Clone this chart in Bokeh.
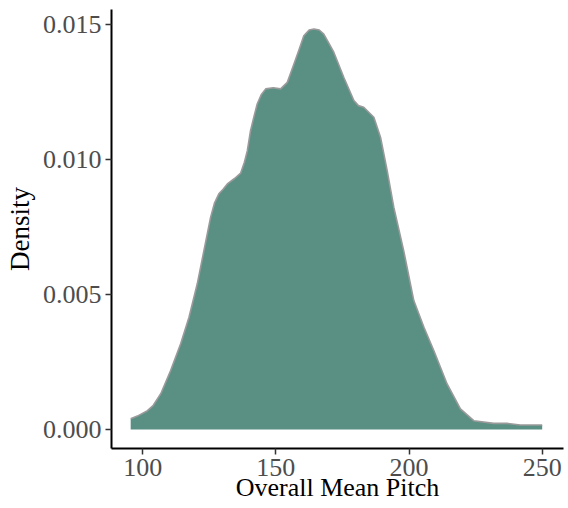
from bokeh.plotting import figure
from bokeh.models import Range1d, FixedTicker, PrintfTickFormatter
from bokeh.embed import file_html
from bokeh.resources import INLINE

pitch = [95.5, 98, 101.8, 104, 106.8, 110.5, 114.3, 117.4, 120.5, 123.0, 125.5,
         127.0, 128.6, 130.2, 131.8, 134.5, 136.8, 138.2, 139.3, 140.5, 141.8, 143.0,
         144.5, 146.2, 149, 151.8, 154.3, 156.8, 158.8, 160.5, 162.5, 164.3, 166.3,
         168.0, 170, 171.8, 175.5, 179.3, 181, 183.0, 186.8, 189.3, 191.8, 194.3,
         198.0, 201.8, 205.6, 209.3, 214.3, 219.3, 224.3, 231.8, 236.8, 241.8, 250]
density = [0.0004, 0.0005, 0.0007, 0.0009, 0.00133, 0.00219, 0.00319, 0.00416, 0.0054,
           0.00663, 0.00786, 0.0084, 0.00873, 0.0089, 0.0091, 0.0093, 0.0095, 0.0099,
           0.01033, 0.01107, 0.0116, 0.01206, 0.0124, 0.01262, 0.01266, 0.01262,
           0.01286, 0.01354, 0.0141, 0.01459, 0.0148, 0.01484, 0.0148, 0.01465, 0.0143,
           0.01397, 0.01305, 0.01219, 0.0120, 0.01194, 0.01157, 0.01083, 0.00959,
           0.00823, 0.00663, 0.00478, 0.00379, 0.00293, 0.00169, 0.00077, 0.00033,
           0.00023, 0.00023, 0.00017, 0.00017]
x_ticks = [100, 150, 200, 250]
y_ticks = [0.0, 0.005, 0.010, 0.015]
x_title = "Overall Mean Pitch"
y_title = "Density"

FONT = "Liberation Serif"

p = figure(width=568, height=508, output_backend="svg", toolbar_location=None,
           x_range=Range1d(88.3, 258), y_range=Range1d(-0.0007, 0.01556),
           min_border_left=111, min_border_right=5, min_border_top=9,
           min_border_bottom=60)
p.outline_line_color = None
p.xgrid.visible = False
p.ygrid.visible = False
p.background_fill_color = "white"
p.border_fill_color = "white"

p.varea(x=pitch, y1=0, y2=density, fill_color="#5A9084", fill_alpha=1.0)
p.line(x=pitch, y=density, line_color="#9a9a9a", line_width=1.6, line_join="round")

for ax in (p.xaxis[0], p.yaxis[0]):
    ax.axis_line_color = "black"
    ax.axis_line_width = 2
    ax.major_tick_line_color = "#333333"
    ax.major_tick_line_width = 1.5
    ax.major_tick_out = 6
    ax.major_tick_in = 0
    ax.minor_tick_line_color = None
    ax.major_label_text_font = FONT
    ax.major_label_text_font_size = "26px"
    ax.major_label_text_color = "#4d4d4d"
    ax.major_label_standoff = 4
    ax.axis_label_text_font = FONT
    ax.axis_label_text_font_style = "normal"
    ax.axis_label_text_color = "black"

p.xaxis[0].ticker = FixedTicker(ticks=x_ticks)
p.yaxis[0].ticker = FixedTicker(ticks=y_ticks)
p.yaxis[0].formatter = PrintfTickFormatter(format="%.3f")

p.yaxis[0].axis_label = y_title
p.yaxis[0].axis_label_text_font_size = "27px"
p.yaxis[0].axis_label_standoff = 5

p.xaxis[0].axis_label = x_title
p.xaxis[0].axis_label_text_font_size = "26px"
p.xaxis[0].axis_label_standoff = -6

open("out.html", "w").write(file_html(p, INLINE))
